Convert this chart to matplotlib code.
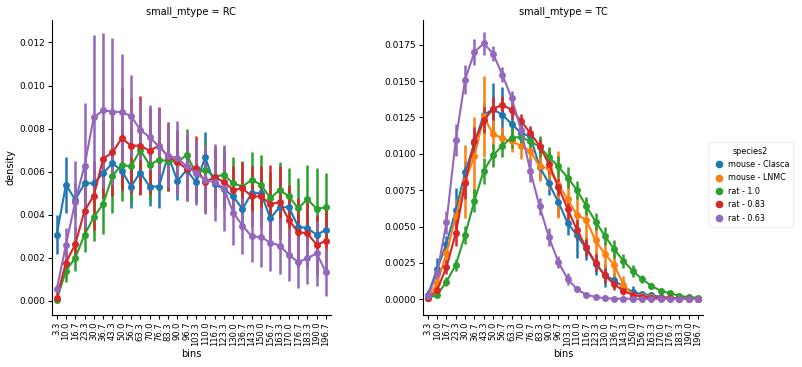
import numpy as np
import matplotlib
matplotlib.use("Agg")
import matplotlib.pyplot as plt
from matplotlib.lines import Line2D

bins = ["3.3", "10.0", "16.7", "23.3", "30.0", "36.7", "43.3", "50.0", "56.7", "63.3",
        "70.0", "76.7", "83.3", "90.0", "96.7", "103.3", "110.0", "116.7", "123.3", "130.0",
        "136.7", "143.3", "150.0", "156.7", "163.3", "170.0", "176.7", "183.3", "190.0", "196.7"]

species = ["mouse - Clasca", "mouse - LNMC", "rat - 1.0", "rat - 0.83", "rat - 0.63"]
colors = ["#1f77b4", "#ff7f0e", "#2ca02c", "#d62728", "#9467bd"]

# RC panel (no mouse - LNMC)
rc_clasca = [0.00307, 0.00539, 0.00469, 0.00546, 0.00546, 0.00593, 0.00639, 0.00605, 0.00531, 0.00596,
             0.00531, 0.00531, 0.00675, 0.00557, 0.00608, 0.00550, 0.00666, 0.00542, 0.00519, 0.00485,
             0.00427, 0.00500, 0.00500, 0.00384, 0.00435, 0.00435, 0.00345, 0.00337, 0.00307, 0.00330]
rc_clasca_err = [0.0009, 0.0013, 0.0008, 0.0008, 0.0008, 0.0009, 0.0009, 0.0010, 0.0010, 0.0010,
                 0.0009, 0.0010, 0.0009, 0.0009, 0.0009, 0.0009, 0.0012, 0.0009, 0.0009, 0.0009,
                 0.0009, 0.0009, 0.0009, 0.0009, 0.0009, 0.0009, 0.0008, 0.0008, 0.0008, 0.0008]
rc_rat10 = [0.00005, 0.00140, 0.00200, 0.00307, 0.00389, 0.00450, 0.00580, 0.00632, 0.00624, 0.00700,
            0.00632, 0.00655, 0.00650, 0.00644, 0.00678, 0.00593, 0.00608, 0.00577, 0.00585, 0.00546,
            0.00531, 0.00562, 0.00539, 0.00477, 0.00515, 0.00485, 0.00430, 0.00472, 0.00427, 0.00435]
rc_rat10_err = [0.0001, 0.0005, 0.0006, 0.0008, 0.0011, 0.0014, 0.0017, 0.0017, 0.0017, 0.0015,
                0.0017, 0.0015, 0.0014, 0.0014, 0.0012, 0.0014, 0.0013, 0.0013, 0.0013, 0.0012,
                0.0012, 0.0013, 0.0014, 0.0012, 0.0013, 0.0013, 0.0014, 0.0016, 0.0019, 0.0016]
rc_rat083 = [0.00015, 0.00178, 0.00263, 0.00418, 0.00489, 0.00660, 0.00689, 0.00755, 0.00721, 0.00721,
             0.00697, 0.00721, 0.00670, 0.00644, 0.00613, 0.00616, 0.00554, 0.00573, 0.00554, 0.00515,
             0.00523, 0.00485, 0.00485, 0.00450, 0.00458, 0.00376, 0.00319, 0.00314, 0.00260, 0.00279]
rc_rat083_err = [0.0001, 0.0006, 0.0008, 0.0011, 0.0016, 0.0018, 0.0020, 0.0024, 0.0022, 0.0023,
                 0.0020, 0.0018, 0.0016, 0.0015, 0.0015, 0.0015, 0.0014, 0.0014, 0.0013, 0.0011,
                 0.0012, 0.0014, 0.0014, 0.0018, 0.0017, 0.0016, 0.0016, 0.0016, 0.0014, 0.0016]
rc_rat063 = [0.00054, 0.00260, 0.00461, 0.00628, 0.00853, 0.00884, 0.00879, 0.00876, 0.00859, 0.00794,
             0.00760, 0.00717, 0.00673, 0.00663, 0.00624, 0.00593, 0.00562, 0.00550, 0.00523, 0.00410,
             0.00350, 0.00299, 0.00296, 0.00271, 0.00257, 0.00214, 0.00180, 0.00198, 0.00221, 0.00132]
rc_rat063_err = [0.0002, 0.0008, 0.0019, 0.0029, 0.0038, 0.0036, 0.0034, 0.0027, 0.0019, 0.0014,
                 0.0015, 0.0018, 0.0015, 0.0017, 0.0016, 0.0015, 0.0016, 0.0018, 0.0020, 0.0015,
                 0.0013, 0.0012, 0.0014, 0.0013, 0.0013, 0.0012, 0.0012, 0.0012, 0.0015, 0.0011]

# TC panel
tc_clasca = [0.00030, 0.00206, 0.00383, 0.00612, 0.00872, 0.01073, 0.01268, 0.01307, 0.01268, 0.01206,
             0.01142, 0.01120, 0.00910, 0.00796, 0.00670, 0.00525, 0.00440, 0.00349, 0.00245, 0.00165,
             0.00130, 0.00085, 0.00050, 0.00034, 0.00028, 0.00016, 0.00010, 0.00006, 0.00005, 0.00004]
tc_clasca_err = [0.0003, 0.0008, 0.0005, 0.0015, 0.0008, 0.0010, 0.0008, 0.0018, 0.0019, 0.0010,
                 0.0008, 0.0006, 0.0008, 0.0008, 0.0010, 0.0008, 0.0016, 0.0008, 0.0008, 0.0008,
                 0.0005, 0.0005, 0.0004, 0.0002, 0.0002, 0.0001, 0.0001, 0.0001, 0.0001, 0.0001]
tc_lnmc = [0.00010, 0.00110, 0.00317, 0.00569, 0.00810, 0.00982, 0.01257, 0.01135, 0.01108, 0.01085,
           0.01057, 0.01020, 0.00913, 0.00901, 0.00787, 0.00688, 0.00580, 0.00546, 0.00404, 0.00312,
           0.00236, 0.00100, 0.00030, 0.00020, 0.00012, 0.00008, 0.00005, 0.00004, 0.00003, 0.00003]
tc_lnmc_err = [0.0001, 0.0004, 0.0007, 0.0012, 0.0025, 0.0027, 0.0028, 0.0010, 0.0008, 0.0007,
               0.0009, 0.0007, 0.0010, 0.0014, 0.0023, 0.0014, 0.0013, 0.0014, 0.0012, 0.0010,
               0.0008, 0.0006, 0.0003, 0.0002, 0.0001, 0.0001, 0.0001, 0.0001, 0.0001, 0.0001]
tc_rat10 = [0.00007, 0.00030, 0.00120, 0.00236, 0.00443, 0.00677, 0.00883, 0.00989, 0.01057, 0.01112,
            0.01115, 0.01085, 0.01050, 0.00977, 0.00913, 0.00837, 0.00752, 0.00642, 0.00534, 0.00436,
            0.00344, 0.00264, 0.00195, 0.00138, 0.00092, 0.00057, 0.00041, 0.00023, 0.00014, 0.00010]
tc_rat10_err = [0.0001, 0.0002, 0.0003, 0.0004, 0.0006, 0.0008, 0.0009, 0.0008, 0.0008, 0.0007,
                0.0006, 0.0006, 0.0007, 0.0007, 0.0007, 0.0007, 0.0006, 0.0006, 0.0006, 0.0006,
                0.0006, 0.0005, 0.0004, 0.0003, 0.0002, 0.0002, 0.0001, 0.0001, 0.0001, 0.0001]
tc_rat083 = [0.00005, 0.00064, 0.00220, 0.00454, 0.00798, 0.01085, 0.01230, 0.01310, 0.01337, 0.01303,
             0.01227, 0.01142, 0.01055, 0.00929, 0.00775, 0.00622, 0.00477, 0.00356, 0.00252, 0.00163,
             0.00103, 0.00057, 0.00030, 0.00018, 0.00011, 0.00006, 0.00005, 0.00004, 0.00003, 0.00003]
tc_rat083_err = [0.0001, 0.0003, 0.0005, 0.0009, 0.0011, 0.0010, 0.0009, 0.0008, 0.0006, 0.0006,
                 0.0005, 0.0005, 0.0005, 0.0006, 0.0006, 0.0007, 0.0007, 0.0006, 0.0006, 0.0005,
                 0.0004, 0.0003, 0.0002, 0.0001, 0.0001, 0.0001, 0.0001, 0.0001, 0.0001, 0.0001]
tc_rat063 = [0.00020, 0.00180, 0.00528, 0.01096, 0.01510, 0.01700, 0.01760, 0.01690, 0.01544, 0.01383,
             0.01165, 0.00883, 0.00638, 0.00427, 0.00257, 0.00140, 0.00069, 0.00030, 0.00016, 0.00006,
             0.00004, 0.00003, 0.00003, 0.00002, 0.00002, 0.00002, 0.00002, 0.00002, 0.00002, 0.00002]
tc_rat063_err = [0.0001, 0.0004, 0.0008, 0.0011, 0.0010, 0.0009, 0.0008, 0.0005, 0.0005, 0.0005,
                 0.0006, 0.0008, 0.0006, 0.0006, 0.0004, 0.0004, 0.0002, 0.0001, 0.0001, 0.0001,
                 0.0001, 0.0001, 0.0001, 0.0001, 0.0001, 0.0001, 0.0001, 0.0001, 0.0001, 0.0001]

rc_series = {"mouse - Clasca": (rc_clasca, rc_clasca_err),
             "rat - 1.0": (rc_rat10, rc_rat10_err),
             "rat - 0.83": (rc_rat083, rc_rat083_err),
             "rat - 0.63": (rc_rat063, rc_rat063_err)}
tc_series = {"mouse - Clasca": (tc_clasca, tc_clasca_err),
             "mouse - LNMC": (tc_lnmc, tc_lnmc_err),
             "rat - 1.0": (tc_rat10, tc_rat10_err),
             "rat - 0.83": (tc_rat083, tc_rat083_err),
             "rat - 0.63": (tc_rat063, tc_rat063_err)}

fig = plt.figure(figsize=(8.03, 3.67), dpi=100)
ax1 = fig.add_axes([0.0648, 0.142, 0.347, 0.804])
ax2 = fig.add_axes([0.527, 0.142, 0.348, 0.804])

x = np.arange(len(bins))


def draw(ax, series, title, ylim):
    for name, col in zip(species, colors):
        if name not in series:
            continue
        m, e = series[name]
        m = np.array(m)
        e = np.array(e)
        ax.vlines(x, m - e, m + e, color=col, lw=1.8, zorder=2)
        ax.plot(x, m, color=col, lw=1.5, marker="o", ms=4, zorder=3)
    ax.set_xlim(-0.5, len(bins) - 0.5)
    ax.set_ylim(*ylim)
    ax.set_xticks(x)
    ax.set_xticklabels(bins, rotation=90, fontsize=6)
    ax.tick_params(axis="y", labelsize=6.5)
    ax.tick_params(length=3, width=0.8, pad=2)
    ax.set_xlabel("bins", fontsize=7, labelpad=2)
    ax.set_title(title, fontsize=7, pad=4)
    for s in ["top", "right"]:
        ax.spines[s].set_visible(False)
    for s in ["left", "bottom"]:
        ax.spines[s].set_linewidth(0.8)


draw(ax1, rc_series, "small_mtype = RC", (-0.00065, 0.01305))
ax1.set_yticks([0.000, 0.002, 0.004, 0.006, 0.008, 0.010, 0.012])
ax1.set_yticklabels(["0.000", "0.002", "0.004", "0.006", "0.008", "0.010", "0.012"])
ax1.set_ylabel("density", fontsize=7, labelpad=3)

draw(ax2, tc_series, "small_mtype = TC", (-0.00108, 0.01922))
ax2.set_yticks([0.0, 0.0025, 0.005, 0.0075, 0.01, 0.0125, 0.015, 0.0175])
ax2.set_yticklabels(["0.0000", "0.0025", "0.0050", "0.0075", "0.0100", "0.0125", "0.0150", "0.0175"])

handles = [Line2D([], [], color=c, marker="o", ls="", ms=4.5) for c in colors]
leg = fig.legend(handles, species, title="species2", loc="center left",
                 bbox_to_anchor=(0.877, 0.497), fontsize=5.8, title_fontsize=5.8,
                 handletextpad=0.3, handlelength=1.6, borderpad=0.5, labelspacing=0.55,
                 frameon=True)
leg.get_frame().set_edgecolor("#eeeeee")

fig.savefig("out.png", dpi=100)
